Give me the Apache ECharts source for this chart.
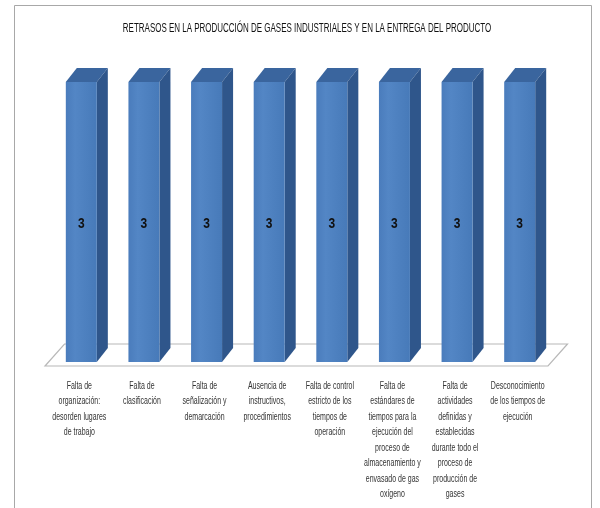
<!DOCTYPE html>
<html>
<head>
<meta charset="utf-8">
<script src="https://cdn.jsdelivr.net/npm/echarts@6/dist/echarts.min.js"></script>
<style>
html,body{margin:0;padding:0;background:#fff;}
#chart{width:600px;height:508px;}
</style>
</head>
<body>
<div id="chart"></div>
<script>
const titleText = 'RETRASOS EN LA PRODUCCIÓN DE GASES INDUSTRIALES Y EN LA ENTREGA DEL PRODUCTO';
const categories = [
  'Falta de\norganización:\ndesorden lugares\nde trabajo',
  'Falta de\nclasificación',
  'Falta de\nseñalización y\ndemarcación',
  'Ausencia de\ninstructivos,\nprocedimientos',
  'Falta de control\nestricto de los\ntiempos de\noperación',
  'Falta de\nestándares de\ntiempos para la\nejecución del\nproceso de\nalmacenamiento y\nenvasado de gas\noxígeno',
  'Falta de\nactividades\ndefinidas y\nestablecidas\ndurante todo el\nproceso de\nproducción de\ngases',
  'Desconocimiento\nde los tiempos de\nejecución'
];
const values = [3, 3, 3, 3, 3, 3, 3, 3];

const chart = echarts.init(document.getElementById('chart'), null, {renderer: 'canvas'});
const FONT = '"Liberation Sans", Arial, sans-serif';

function renderBar(params, api) {
  const xi = api.value(0), v = api.value(1);
  const top = api.coord([xi, v]);
  const bot = api.coord([xi, 0]);
  const band = api.size([1, 0])[0];
  const w = band * 0.495;
  const dx = band * 0.176;
  const dy = 14;
  const x0 = top[0] - w / 2, x1 = top[0] + w / 2;
  const yT = top[1], yB = bot[1];
  return {
    type: 'group',
    children: [
      { type: 'polygon', shape: { points: [[x0, yT], [x1, yT], [x1 + dx, yT - dy], [x0 + dx, yT - dy]] },
        style: { fill: '#3a659e' } },
      { type: 'polygon', shape: { points: [[x1, yT], [x1 + dx, yT - dy], [x1 + dx, yB - dy], [x1, yB]] },
        style: { fill: '#2f568b' } },
      { type: 'rect', shape: { x: x0, y: yT, width: w, height: yB - yT },
        style: { fill: new echarts.graphic.LinearGradient(0, 0, 1, 0, [
          { offset: 0, color: '#4a7cbc' }, { offset: 0.3, color: '#5386c5' }, { offset: 1, color: '#477ab9' }]) } },
      { type: 'text', x: top[0], y: (yT + yB) / 2 + 2, scaleX: 0.8,
        style: { text: String(v), x: 0, y: 0, align: 'center', verticalAlign: 'middle',
        font: 'bold 15px ' + FONT, fill: '#111' } },
      { type: 'text', x: top[0] - 2, y: yB + 16, scaleX: 0.7,
        style: { text: categories[params.dataIndex], x: 0, y: 0, align: 'center', verticalAlign: 'top',
        font: '10px ' + FONT, lineHeight: 15.5, fill: '#333' } }
    ]
  };
}

function renderFloor(params, api) {
  const cs = params.coordSys;
  const y0 = api.coord([0, 0])[1];
  const fl = cs.x - 5, fr = cs.x + cs.width - 3;
  const fy = y0 + 4, by = y0 - 18, off = 19.5;
  return {
    type: 'polygon',
    shape: { points: [[fl, fy], [fr, fy], [fr + off, by], [fl + off, by]] },
    style: { fill: '#ffffff', stroke: '#b8b8b8', lineWidth: 1.2 }
  };
}

chart.setOption({
  animation: false,
  backgroundColor: '#ffffff',
  graphic: [
    { type: 'rect', shape: { x: 14.5, y: 5.5, width: 577, height: 520 },
      style: { fill: 'none', stroke: '#a8a8a8', lineWidth: 1 }, silent: true, z: -10 },
    { type: 'text', x: 307, y: 29, scaleX: 0.665,
      style: { text: titleText, x: 0, y: 0, align: 'center', verticalAlign: 'middle',
        font: '12px ' + FONT, fill: '#111' } }
  ],
  grid: { left: 50, right: 49, top: 82, bottom: 146 },
  xAxis: {
    type: 'category', data: categories,
    axisLine: { show: false }, axisTick: { show: false },
    axisLabel: { show: false }
  },
  yAxis: { type: 'value', min: 0, max: 3, show: false, splitLine: { show: false } },
  series: [
    { type: 'custom', renderItem: renderFloor, data: [[0, 0]], z: 1, silent: true, clip: false },
    { type: 'custom', renderItem: renderBar, data: values.map((v, i) => [i, v]), z: 2, clip: false }
  ]
});
</script>
</body>
</html>
